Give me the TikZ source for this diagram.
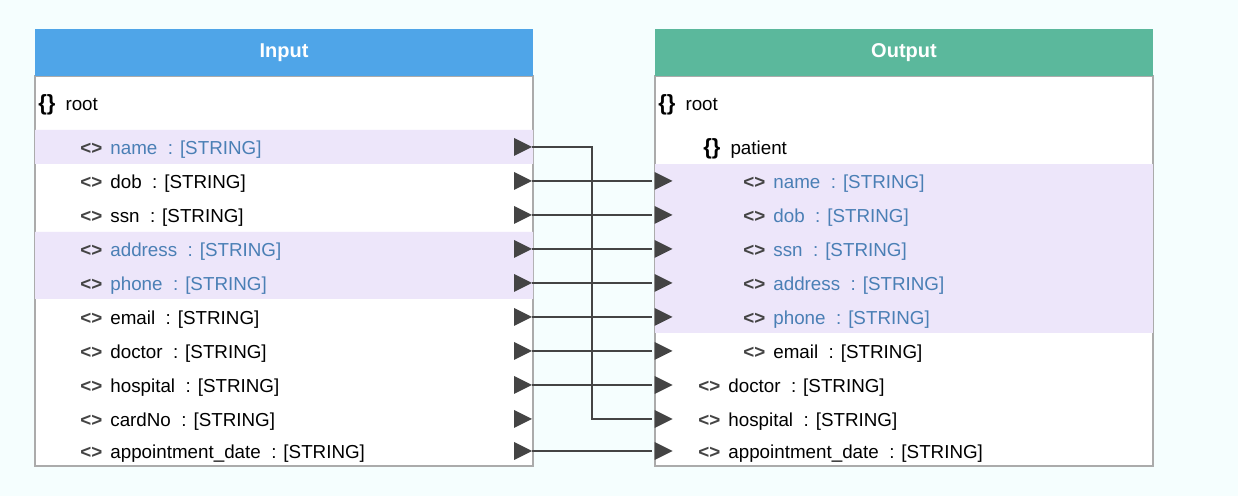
\documentclass[tikz,border=0pt]{standalone}
\usepackage{fontspec}
\setmainfont{Liberation Sans}
\usetikzlibrary{positioning}
\definecolor{paper}{HTML}{F5FEFE}
\definecolor{inhead}{HTML}{4FA5E8}
\definecolor{outhead}{HTML}{5BB89C}
\definecolor{picked}{HTML}{EDE6FA}
\definecolor{pickedtext}{HTML}{4A7FB5}
\definecolor{wirecol}{HTML}{444444}
\definecolor{framecol}{HTML}{ABABAB}
\newcommand{\tagmark}{{\bfseries\color{wirecol}<>}}
\newcommand{\objmark}{{\fontsize{11}{12}\selectfont\bfseries\{\}}}
\tikzset{
    x=0.5pt, y=-0.5pt, % one unit is one pixel of the screenshot
    every node/.style={font=\fontsize{9.4}{11}\selectfont, inner sep=0pt}, % text of the fields
    head/.style={minimum width=249pt, minimum height=23.5pt, font=\fontsize{10}{12}\selectfont\bfseries, text=white}, % title bar of a box
    body/.style={minimum width=249pt, draw=framecol, line width=0.8pt, fill=white}, % white part of a box
    field/.style={anchor=base west}, % one line of the tree
    port/.style={minimum size=9pt, path picture={\fill[wirecol] (path picture bounding box.north west) -- (path picture bounding box.east) -- (path picture bounding box.south west) -- cycle;}}, % the little triangles
    wire/.style={draw=wirecol, line width=1pt}, % the mapping lines
}
\begin{document}
\begin{tikzpicture}
\fill[paper] (0,0) rectangle (1238,496);
% the two boxes
\node[body, minimum height=195pt] (inbody) at (284,271) {};
\node[body, minimum height=195pt] (outbody) at (904,271) {};
\fill[picked] (35,130) rectangle (533,164) (35,232) rectangle (533,299);
\fill[picked] (655,164) rectangle (1153,333);
\node[head, fill=inhead] (inhead) at (284,52.5) {Input};
\node[head, fill=outhead] (outhead) at (904,52.5) {Output};
% input tree
\node[field] (in-root) at (38,111) {\objmark\hspace{5pt}root};
\foreach \f/\t/\c/\y in {name/name/pickedtext/147, dob/dob/black/181, ssn/ssn/black/215, address/address/pickedtext/249, phone/phone/pickedtext/283, email/email/black/317, doctor/doctor/black/351, hospital/hospital/black/385, cardNo/cardNo/black/419, date/appointment\_date/black/451}{
    \node[field, text=\c] (in-\f) at (80,\y+8) {\tagmark\hspace{4pt}\t\ \ : [STRING]};
    \node[port] (ip-\f) at (523,\y) {};
}
% output tree
\node[field] (out-root) at (658,111) {\objmark\hspace{5pt}root};
\node[field] (out-patient) at (703,155) {\objmark\hspace{5pt}patient};
\foreach \f/\c/\y in {name/pickedtext/181, dob/pickedtext/215, ssn/pickedtext/249, address/pickedtext/283, phone/pickedtext/317, email/black/351}{
    \node[field, text=\c] (out-\f) at (743,\y+8) {\tagmark\hspace{4pt}\f\ \ : [STRING]};
    \node[port] (op-\f) at (663.5,\y) {};
}
\foreach \f/\t/\y in {doctor/doctor/385, hospital/hospital/419, date/appointment\_date/451}{
    \node[field] (out-\f) at (698,\y+8) {\tagmark\hspace{4pt}\t\ \ : [STRING]};
    \node[port] (op-\f) at (663.5,\y) {};
}
% mappings
\foreach \a/\b in {dob/name, ssn/dob, address/ssn, phone/address, email/phone, doctor/email, hospital/doctor, date/date}
    \draw[wire, shorten >=1pt] (ip-\a.east) -- (op-\b.west);
\draw[wire, shorten >=1pt] (ip-name.east) -- ++(60,0) |- (op-hospital.west);
\end{tikzpicture}
\end{document}
